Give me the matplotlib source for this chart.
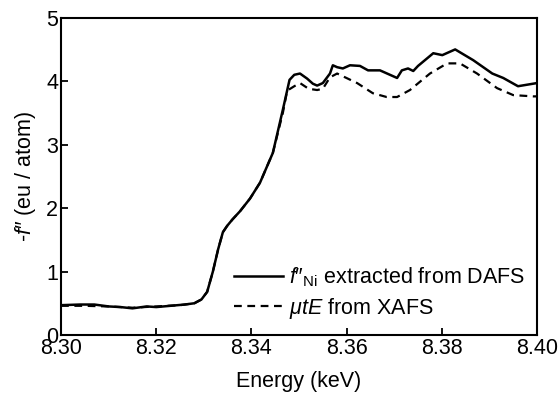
import matplotlib
matplotlib.use("Agg")
import matplotlib.pyplot as plt
import numpy as np

plt.rcParams['font.family'] = ['Liberation Sans', 'DejaVu Sans']
plt.rcParams['mathtext.fontset'] = 'custom'
plt.rcParams['mathtext.rm'] = 'Liberation Sans'
plt.rcParams['mathtext.it'] = 'Liberation Sans:italic'

# f''_Ni extracted from DAFS (solid)
e_dafs = [8.300, 8.304, 8.307, 8.310, 8.3125, 8.315, 8.318, 8.320, 8.323, 8.326,
          8.328, 8.3295, 8.3307, 8.3319, 8.333, 8.334, 8.3349, 8.336, 8.3376, 8.3397,
          8.3418, 8.3445, 8.3466, 8.348, 8.349, 8.3502, 8.3517, 8.3529, 8.3538, 8.3550,
          8.3565, 8.3571, 8.3580, 8.3592, 8.3607, 8.3628, 8.3645, 8.3670, 8.3706, 8.3716,
          8.3729, 8.3740, 8.3750, 8.3782, 8.3801, 8.3828, 8.3866, 8.3906, 8.3929, 8.3960,
          8.4000]
f_dafs = [0.47, 0.48, 0.48, 0.45, 0.44, 0.42, 0.45, 0.44, 0.46, 0.48,
          0.50, 0.56, 0.68, 1.00, 1.35, 1.62, 1.72, 1.82, 1.95, 2.15,
          2.40, 2.87, 3.55, 4.02, 4.10, 4.12, 4.04, 3.96, 3.93, 3.97,
          4.12, 4.25, 4.22, 4.20, 4.25, 4.24, 4.17, 4.17, 4.05, 4.17,
          4.20, 4.16, 4.24, 4.44, 4.41, 4.50, 4.33, 4.12, 4.05, 3.92,
          3.97]

# mu t E from XAFS (dashed)
e_xafs = [8.300, 8.305, 8.310, 8.315, 8.320, 8.325, 8.328, 8.3295, 8.3307, 8.3319,
          8.333, 8.334, 8.3349, 8.336, 8.3376, 8.3397, 8.3418, 8.3445, 8.3466, 8.3475,
          8.349, 8.3502, 8.352, 8.3538, 8.3550, 8.3565, 8.358, 8.3622, 8.3655, 8.3684,
          8.3706, 8.3733, 8.3775, 8.3811, 8.3838, 8.3874, 8.3916, 8.3950, 8.3992, 8.4000]
f_xafs = [0.46, 0.46, 0.45, 0.43, 0.45, 0.47, 0.50, 0.56, 0.68, 1.00,
          1.35, 1.62, 1.72, 1.82, 1.95, 2.15, 2.40, 2.87, 3.50, 3.85,
          3.92, 3.97, 3.88, 3.86, 3.88, 4.06, 4.12, 3.97, 3.81, 3.75,
          3.75, 3.86, 4.12, 4.28, 4.28, 4.12, 3.89, 3.78, 3.76, 3.76]

x_ticks = [8.30, 8.32, 8.34, 8.36, 8.38, 8.40]
y_ticks = [0, 1, 2, 3, 4, 5]

fig = plt.figure(figsize=(5.6, 3.93), dpi=100)
ax = fig.add_axes([0.109, 0.1476, 0.85, 0.8074])

ax.plot(e_dafs, f_dafs, 'k-', linewidth=1.8,
        label="$f$\u2033$_{\\rm Ni}$ extracted from DAFS")
ax.plot(e_xafs, f_xafs, 'k--', linewidth=1.6, dashes=(3.5, 2.5),
        label=r"$\mu tE$ from XAFS")

ax.set_xlim(8.30, 8.40)
ax.set_ylim(0, 5)
ax.set_xticks(x_ticks)
ax.set_xticklabels([f"{t:.2f}" for t in x_ticks])
ax.set_yticks(y_ticks)
ax.tick_params(direction='in', length=5, width=1.3, labelsize=15.5, pad=2)
for s in ax.spines.values():
    s.set_linewidth(1.5)

ax.set_xlabel('Energy (keV)', fontsize=15.5, labelpad=9)
ax.set_ylabel("-$f$\u2033 (eu / atom)", fontsize=15.5, labelpad=6)

ax.legend(loc='lower right', bbox_to_anchor=(0.975, 0.045), frameon=False,
          fontsize=15.5, handlelength=2.3, handletextpad=0.25, labelspacing=0.3,
          borderpad=0, borderaxespad=0)

fig.savefig('out.png', dpi=100)
